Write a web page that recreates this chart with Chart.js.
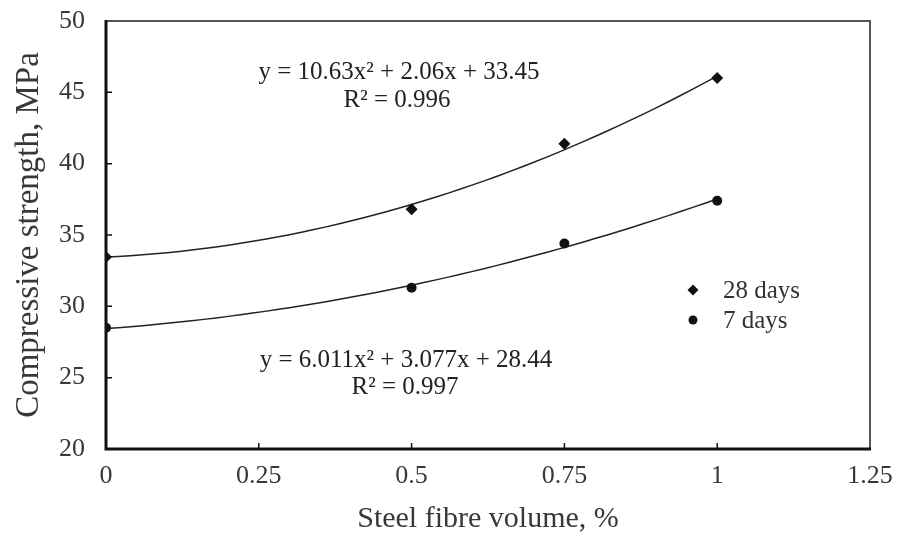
<!DOCTYPE html>
<html>
<head>
<meta charset="utf-8">
<script src="https://cdn.jsdelivr.net/npm/chart.js@4.4.1/dist/chart.umd.min.js"></script>
<style>
  html, body { margin: 0; padding: 0; background: #fff; }
  #wrap { width: 898px; height: 533px; }
</style>
</head>
<body>
<div id="wrap"><canvas id="strengthChart"></canvas></div>
<script>
// fibre volume (%) and measured compressive strength (MPa)
const fibreVolume = [0, 0.5, 0.75, 1];
const strength28 = [33.45, 36.8, 41.4, 46.0];
const strength7 = [28.5, 31.3, 34.4, 37.4];

// quadratic trendline coefficients [a, b, c] for y = a x^2 + b x + c
const fit28 = [10.63, 2.06, 33.45];
const fit7 = [6.011, 3.077, 28.44];
const fitLabels28 = ['y = 10.63x\u00B2 + 2.06x + 33.45', 'R\u00B2 = 0.996'];
const fitLabels7 = ['y = 6.011x\u00B2 + 3.077x + 28.44', 'R\u00B2 = 0.997'];

const xTicks = [0, 0.25, 0.5, 0.75, 1, 1.25];
const yTicks = [20, 25, 30, 35, 40, 45, 50];

const serif = '"Liberation Serif", "Times New Roman", serif';
const textColor = '#383838';

function curve(coef) {
    const pts = [];
    for (let i = 0; i <= 50; i++) {
        const x = i / 50;
        pts.push({ x, y: coef[0] * x * x + coef[1] * x + coef[2] });
    }
    return pts;
}

const toPoints = ys => fibreVolume.map((x, i) => ({ x, y: ys[i] }));

// frame, inward ticks, equations and the small legend
const decorations = {
    id: 'decorations',
    afterDraw(chart) {
        const { ctx, chartArea: a, scales: { x, y } } = chart;
        ctx.save();

        ctx.strokeStyle = '#555';
        ctx.lineWidth = 2;
        ctx.beginPath();
        ctx.moveTo(a.left, a.top);
        ctx.lineTo(a.right, a.top);
        ctx.lineTo(a.right, a.bottom);
        ctx.stroke();

        ctx.strokeStyle = '#111';
        ctx.lineWidth = 3;
        ctx.beginPath();
        ctx.moveTo(a.left, a.top - 1);
        ctx.lineTo(a.left, a.bottom);
        ctx.lineTo(a.right + 1, a.bottom);
        ctx.stroke();

        ctx.lineWidth = 1.5;
        ctx.beginPath();
        yTicks.slice(1, -1).forEach(v => {
            const py = y.getPixelForValue(v);
            ctx.moveTo(a.left, py);
            ctx.lineTo(a.left + 6, py);
        });
        xTicks.slice(1, -1).forEach(v => {
            const px = x.getPixelForValue(v);
            ctx.moveTo(px, a.bottom);
            ctx.lineTo(px, a.bottom - 6);
        });
        ctx.stroke();

        ctx.fillStyle = '#222';
        ctx.font = '25px ' + serif;
        ctx.textAlign = 'center';
        ctx.textBaseline = 'middle';
        ctx.fillText(fitLabels28[0], 399, 72);
        ctx.fillText(fitLabels28[1], 397, 100);
        ctx.fillText(fitLabels7[0], 406, 360);
        ctx.fillText(fitLabels7[1], 405, 387);

        // legend
        const lx = 693;
        const rows = [
            { label: chart.data.datasets[0].label, style: 'diamond', y: 290 },
            { label: chart.data.datasets[1].label, style: 'circle', y: 320 }
        ];
        ctx.textAlign = 'left';
        rows.forEach(r => {
            ctx.fillStyle = '#111';
            ctx.beginPath();
            if (r.style === 'diamond') {
                ctx.moveTo(lx, r.y - 5.5);
                ctx.lineTo(lx + 5.5, r.y);
                ctx.lineTo(lx, r.y + 5.5);
                ctx.lineTo(lx - 5.5, r.y);
                ctx.closePath();
            } else {
                ctx.arc(lx, r.y, 4.5, 0, Math.PI * 2);
            }
            ctx.fill();
            ctx.fillStyle = '#333';
            ctx.fillText(r.label, lx + 30, r.y + 1);
        });

        ctx.restore();
    }
};

new Chart(document.getElementById('strengthChart'), {
    type: 'scatter',
    data: {
        datasets: [
            {
                label: '28 days',
                data: toPoints(strength28),
                pointStyle: 'rectRot',
                pointRadius: 6,
                backgroundColor: '#111',
                borderColor: '#111',
                borderWidth: 0
            },
            {
                label: '7 days',
                data: toPoints(strength7),
                pointStyle: 'circle',
                pointRadius: 5,
                backgroundColor: '#111',
                borderColor: '#111',
                borderWidth: 0
            },
            {
                label: 'fit28',
                type: 'line',
                data: curve(fit28),
                borderColor: '#222',
                borderWidth: 1.5,
                pointRadius: 0,
                fill: false
            },
            {
                label: 'fit7',
                type: 'line',
                data: curve(fit7),
                borderColor: '#222',
                borderWidth: 1.5,
                pointRadius: 0,
                fill: false
            }
        ]
    },
    options: {
        responsive: true,
        maintainAspectRatio: false,
        animation: false,
        layout: { padding: { top: 21, right: 28, left: 0, bottom: 0 } },
        plugins: {
            legend: { display: false },
            tooltip: { enabled: false }
        },
        scales: {
            x: {
                type: 'linear',
                min: 0,
                max: 1.25,
                afterBuildTicks: s => { s.ticks = xTicks.map(v => ({ value: v })); },
                afterFit: s => { s.height = 84; s.paddingLeft = 0; s.paddingRight = 0; },
                grid: { display: false },
                border: { display: false },
                ticks: {
                    color: textColor,
                    padding: 4,
                    font: { family: serif, size: 26 },
                    callback: v => String(v)
                },
                title: {
                    display: true,
                    text: 'Steel fibre volume, %',
                    color: textColor,
                    padding: { top: 0, bottom: 0 },
                    font: { family: serif, size: 30, lineHeight: 0.9 }
                }
            },
            y: {
                min: 20,
                max: 50,
                afterBuildTicks: s => { s.ticks = yTicks.map(v => ({ value: v })); },
                afterFit: s => { s.width = 106; s.paddingTop = 0; s.paddingBottom = 0; },
                grid: { display: false },
                border: { display: false },
                ticks: {
                    color: textColor,
                    padding: 13,
                    font: { family: serif, size: 26, lineHeight: 1 }
                },
                title: {
                    display: true,
                    text: 'Compressive strength, MPa',
                    color: textColor,
                    padding: { top: 13, bottom: 0 },
                    font: { family: serif, size: 33, lineHeight: 1 }
                }
            }
        }
    },
    plugins: [decorations]
});
</script>
</body>
</html>
